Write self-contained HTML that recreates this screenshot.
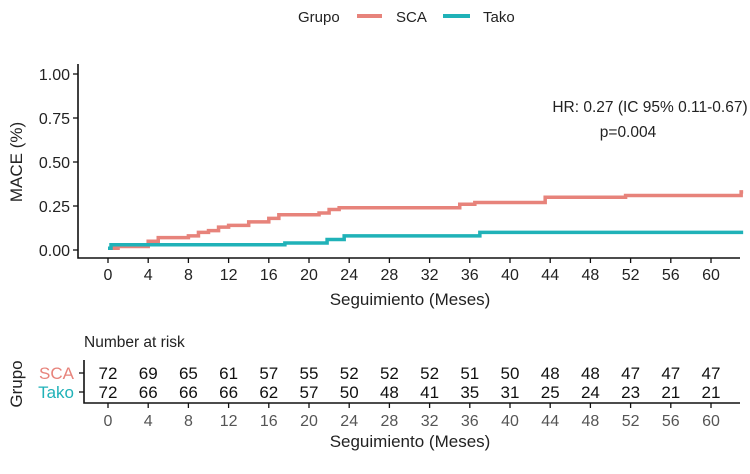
<!DOCTYPE html>
<html><head><meta charset="utf-8"><style>
body{margin:0;background:#fff;width:750px;height:469px;overflow:hidden}
text{font-family:"Liberation Sans",sans-serif}
</style></head><body>
<svg id="chart" width="750" height="469" xmlns="http://www.w3.org/2000/svg">
<g>
<text x="298" y="22" font-size="15" fill="#222">Grupo</text>
<line x1="357" y1="16" x2="382" y2="16" stroke="#E7837B" stroke-width="4"/>
<text x="396" y="22" font-size="15" fill="#222">SCA</text>
<line x1="443" y1="16" x2="470" y2="16" stroke="#20B2B8" stroke-width="4"/>
<text x="483" y="22" font-size="15" fill="#222">Tako</text>
</g>
<g id="main"></g>
<text x="650" y="112" font-size="15.5" fill="#222" text-anchor="middle">HR: 0.27 (IC 95% 0.11-0.67)</text>
<text x="628" y="137" font-size="15.5" fill="#222" text-anchor="middle">p=0.004</text>
<text transform="translate(22,162) rotate(-90)" font-size="17" fill="#222" text-anchor="middle">MACE (%)</text>
<text x="410" y="305" font-size="17" fill="#222" text-anchor="middle">Seguimiento (Meses)</text>
<text x="84" y="347" font-size="15.5" fill="#222">Number at risk</text>
<g id="risk"></g>
<text transform="translate(22,384) rotate(-90)" font-size="17" fill="#222" text-anchor="middle">Grupo</text>
<text x="410" y="447" font-size="17" fill="#222" text-anchor="middle">Seguimiento (Meses)</text>
</svg>
<script>
const xTicks=[0,4,8,12,16,20,24,28,32,36,40,44,48,52,56,60];
const yTicks=[0,0.25,0.5,0.75,1];
const scaTimes=[0,1,4,5,8,9,10,11,12,14,16,17,21,22,23,35,36.5,43.5,51.5,63];
const scaValues=[0.01,0.02,0.05,0.07,0.08,0.10,0.11,0.13,0.14,0.16,0.18,0.20,0.21,0.23,0.24,0.26,0.27,0.30,0.31,0.33];
const takoTimes=[0,0.3,17.6,21.8,23.5,37];
const takoValues=[0.01,0.03,0.04,0.06,0.08,0.10];
const riskSCA=[72,69,65,61,57,55,52,52,52,51,50,48,48,47,47,47];
const riskTako=[72,66,66,66,62,57,50,48,41,35,31,25,24,23,21,21];
const xMax=63.2;
const X=t=>108+t*(711-108)/60;
const Y=v=>250-v*176;
const NS="http://www.w3.org/2000/svg";
function mk(parent,tag,attrs){const e=document.createElementNS(NS,tag);for(const k in attrs)e.setAttribute(k,attrs[k]);parent.appendChild(e);return e;}
const g=document.getElementById('main');
let a=mk(g,'path',{d:`M78,64 V258 H740`,fill:'none',stroke:'#111','stroke-width':1.6});


yTicks.forEach(v=>{
 let l=mk(g,'line',{x1:73,x2:78,y1:Y(v),y2:Y(v),stroke:'#111','stroke-width':1.3});
 
 
 let t=mk(g,'text',{x:70,y:Y(v)+6,'font-size':16,fill:'#222','text-anchor':'end'});t.textContent=v.toFixed(2);
 
 
});
xTicks.forEach(v=>{
 let l=mk(g,'line',{x1:X(v),x2:X(v),y1:258,y2:263,stroke:'#111','stroke-width':1.3});
 
 
 let t=mk(g,'text',{x:X(v),y:280,'font-size':16,fill:'#222','text-anchor':'middle'});t.textContent=v;
 
 
});
function step(times,vals){let d=`M${X(times[0])},${Y(vals[0])}`;for(let i=1;i<times.length;i++){d+=` H${X(times[i])} V${Y(vals[i])}`;}d+=` H${X(xMax)}`;return d;}
let p1=mk(g,'path',{d:step(scaTimes,scaValues),fill:'none',stroke:'#E7837B','stroke-width':3.5});


let p2=mk(g,'path',{d:step(takoTimes,takoValues),fill:'none',stroke:'#20B2B8','stroke-width':3.5});


const r=document.getElementById('risk');
let ra=mk(r,'path',{d:'M84,360 V403 H740',fill:'none',stroke:'#111','stroke-width':1.6});


[[373,'SCA','#E7837B',riskSCA],[392,'Tako','#20B2B8',riskTako]].forEach(([y,n,c,arr])=>{
 let lb=mk(r,'text',{x:74,y:y+6,'font-size':17,fill:c,'text-anchor':'end'});lb.textContent=n;
 
 
 let tk=mk(r,'line',{x1:79,x2:84,y1:y,y2:y,stroke:'#111','stroke-width':1.3});
 
 
 arr.forEach((v,i)=>{let t=mk(r,'text',{x:X(xTicks[i]),y:y+6,'font-size':17,fill:'#111','text-anchor':'middle'});t.textContent=v;
 
 });
});
xTicks.forEach(v=>{
 let l=mk(r,'line',{x1:X(v),x2:X(v),y1:403,y2:408,stroke:'#111','stroke-width':1.3});
 
 
 let t=mk(r,'text',{x:X(v),y:426,'font-size':16,fill:'#555','text-anchor':'middle'});t.textContent=v;
 
 
});
</script>
</body></html>
